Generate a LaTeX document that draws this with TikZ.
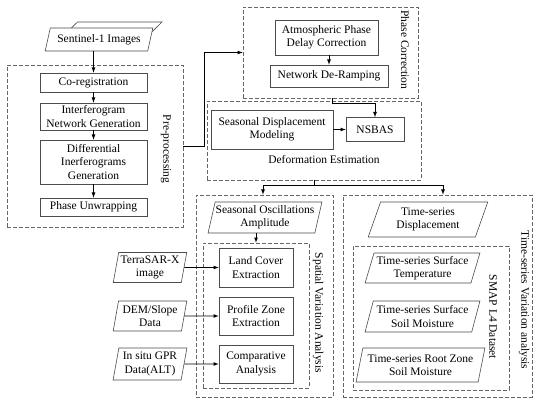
\documentclass[tikz,border=0pt]{standalone}
\usepackage{fontspec}
\setmainfont{Liberation Serif}
\usetikzlibrary{shapes.geometric}

\tikzset{
  box/.style={draw=black!70, rectangle, align=center, inner sep=1pt},
  data/.style={draw=black!70, trapezium, trapezium left angle=#1, trapezium right angle=180-#1,
    trapezium stretches=true, align=center, inner sep=0.5pt, fill=white},
  data/.default=71,
  group/.style={draw=black!60, dash pattern=on 4pt off 2pt, rectangle, inner sep=0pt},
  label/.style={rotate=-90, inner sep=0pt},
  flow/.style={->, >=latex, black, line width=0.8pt}
}

\begin{document}
\begin{tikzpicture}[x=1pt, y=-1pt, font=\fontsize{11.5}{13.3}\selectfont, line width=0.6pt]
\useasboundingbox (0,0) rectangle (550,404);

% groups
\node [group, minimum width=176pt, minimum height=162pt] (pre) at (95,146) {};
\node [group, minimum width=175pt, minimum height=91pt] (pc) at (330.5,52.5) {};
\node [group, minimum width=214pt, minimum height=79pt] (de) at (314,140.5) {};
\node [group, minimum width=137pt, minimum height=202pt] (sva) at (264.5,296) {};
\node [group, minimum width=106pt, minimum height=145pt] (svainner) at (256,315.5) {};
\node [group, minimum width=189pt, minimum height=202pt] (tva) at (437.5,296) {};
\node [group, minimum width=156pt, minimum height=144pt] (smap) at (431,318) {};

% group labels
\node [label] (prelabel) at (166,149) {Pre-processing};
\node [label] (pclabel) at (405,50) {Phase Correction};
\node (delabel) at (324,160) {Deformation Estimation};
\node [label] (svalabel) at (318,313) {Spatial Variation Analysis};
\node [label] (smaplabel) at (493,317) {SMAP L4 Dataset};
\node [label] (tvalabel) at (524,300) {Time-series Variation analysis};

% input
\node [data=69, minimum width=108pt, minimum height=23pt] (s1back) at (108,33.5) {};
\node [data=69, minimum width=108pt, minimum height=23pt] (s1) at (99,39.5) {Sentinel-1 Images};

% pre-processing
\node [box, minimum width=107pt, minimum height=19pt] (coreg) at (93.5,82.5) {Co-registration};
\node [box, minimum width=107pt, minimum height=27pt] (ifg) at (93.5,116.5) {Interferogram\\Network Generation};
\node [box, minimum width=107pt, minimum height=44pt] (diff) at (93.5,162) {Differential\\Inerferograms\\Generation};
\node [box, minimum width=107pt, minimum height=18pt] (unwrap) at (93.5,207) {Phase Unwrapping};

% phase correction
\node [box, minimum width=103pt, minimum height=35pt] (apdc) at (326.5,37.5) {Atmospheric Phase\\Delay Correction};
\node [box, minimum width=118pt, minimum height=22pt] (deramp) at (329,76) {Network De-Ramping};

% deformation estimation
\node [box, minimum width=122pt, minimum height=39pt] (sdm) at (272,129.5) {Seasonal Displacement\\Modeling};
\node [box, minimum width=58pt, minimum height=24pt] (nsbas) at (375,129.5) {NSBAS};

% spatial variation
\node [data=74, minimum width=112pt, minimum height=31pt] (soa) at (265,217.5) {Seasonal Oscillations\\Amplitude};
\node [box, minimum width=74pt, minimum height=39pt] (landcover) at (256,267.5) {Land Cover\\Extraction};
\node [box, minimum width=74pt, minimum height=38pt] (profile) at (256,316) {Profile Zone\\Extraction};
\node [box, minimum width=74pt, minimum height=38pt] (compare) at (256,364) {Comparative\\Analysis};
\node [data=78, minimum width=74pt, minimum height=30pt] (terrasar) at (150,267.5) {TerraSAR-X\\image};
\node [data=78, minimum width=74pt, minimum height=30pt] (dem) at (150,316) {DEM/Slope\\Data};
\node [data=78, minimum width=74pt, minimum height=32pt] (gpr) at (150,364) {In situ GPR\\Data(ALT)};

% time-series variation
\node [data, minimum width=120pt, minimum height=35pt] (tsd) at (428,219.5) {Time-series\\Displacement};
\node [data, minimum width=115pt, minimum height=30pt] (tsst) at (422.5,268) {Time-series Surface\\Temperature};
\node [data, minimum width=115pt, minimum height=31pt] (tssm) at (422.5,316.5) {Time-series Surface\\Soil Moisture};
\node [data=74, minimum width=129pt, minimum height=34pt] (tsrz) at (420.5,365) {Time-series Root Zone\\Soil Moisture};

% connectors
\draw [flow] (coreg.north |- s1.south) -- (coreg.north);
\draw [flow] (coreg) -- (ifg);
\draw [flow] (ifg) -- (diff);
\draw [flow] (diff) -- (unwrap);
\draw [flow] (pre.east) -- ++(21,0) |- (pc.west);
\draw [flow] (deramp.north |- apdc.south) -- (deramp.north);
\draw [flow] ([xshift=1.5pt]pc.south) -- ++(0,5) -| (nsbas.north);
\draw [flow] (sdm.east) -- (nsbas.west);
\draw [flow] (de.south) -- ++(0,5) -| ([xshift=-1.5pt]sva.north);
\draw [flow] (de.south) -- ++(0,5) -| ([xshift=5.5pt]tva.north);
\draw [flow] (svainner.north |- soa.south) -- (svainner.north);
\draw [flow] (terrasar.east) -- (landcover.west);
\draw [flow] (dem.east) -- (profile.west);
\draw [flow] (gpr.east) -- (compare.west);
\end{tikzpicture}
\end{document}
